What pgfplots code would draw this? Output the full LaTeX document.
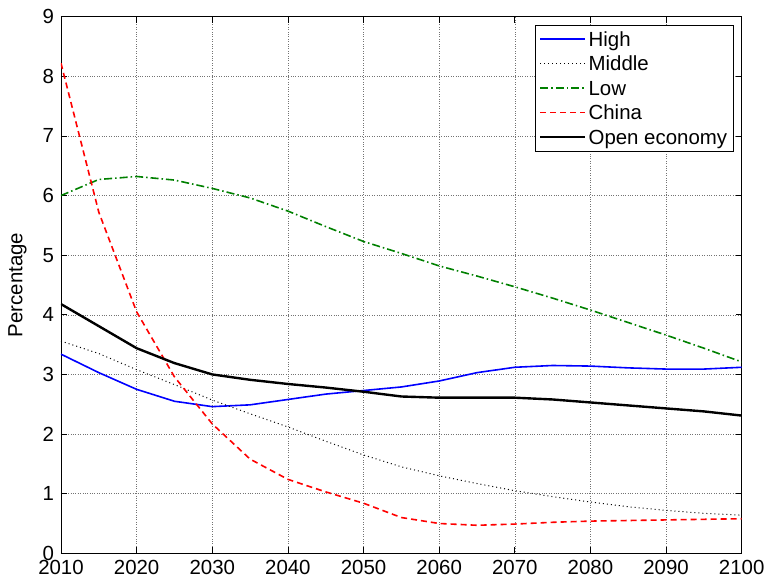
\documentclass[border=0pt]{standalone}
\usepackage{fontspec}
\setmainfont{Liberation Sans}
\usepackage{pgfplots}
\pgfplotsset{compat=1.18}
\definecolor{mgreen}{rgb}{0,0.5,0}
\newcommand{\ls}{\rule[-5.5bp]{0pt}{23bp}}
\begin{document}
\fontsize{20.5}{24}\selectfont
\begin{tikzpicture}
\begin{axis}[
  scale only axis, width=680.7bp, height=536.6bp,
  xmin=2010, xmax=2100, ymin=0, ymax=9,
  xtick={2010,2020,...,2100}, ytick={0,1,...,9},
  /pgf/number format/assume math mode=true,
  /pgf/number format/1000 sep={},
  grid=major,
  major grid style={dotted, black!55, line width=0.6pt},
  tick align=inside, major tick length=6bp,
  axis line style={line width=1pt},
  tick style={black, line width=0.8pt},
  ylabel={Percentage},
  ylabel style={at={(axis description cs:-0.064,0.5)}, anchor=center},
  legend cell align=left,
  legend image code/.code={\draw[mark repeat=2,mark phase=2,#1] plot coordinates {(0bp,0bp) (22.5bp,0bp) (45bp,0bp)};},
  legend style={at={(rel axis cs:0.9877,0.9845)}, anchor=north east,
    inner xsep=4bp, inner ysep=1.5bp, row sep=0pt},
]
\addplot[blue, line width=1.6pt] coordinates {
(2010,3.34) (2015,3.03) (2020,2.75) (2025,2.55) (2030,2.46) (2035,2.49) (2040,2.58) (2045,2.67) (2050,2.73) (2055,2.79) (2060,2.89) (2065,3.03) (2070,3.12) (2075,3.15) (2080,3.14) (2085,3.11) (2090,3.09) (2095,3.09) (2100,3.12)};
\addlegendentry{\ls High}
\addplot[black, line width=1pt, dash pattern=on 1bp off 3bp] coordinates {
(2010,3.56) (2015,3.35) (2020,3.08) (2025,2.83) (2030,2.57) (2035,2.34) (2040,2.12) (2045,1.88) (2050,1.65) (2055,1.45) (2060,1.30) (2065,1.17) (2070,1.05) (2075,0.95) (2080,0.86) (2085,0.78) (2090,0.72) (2095,0.67) (2100,0.64)};
\addlegendentry{\ls Middle}
\addplot[mgreen, line width=1.6pt, dash pattern=on 8bp off 3bp on 1.5bp off 3bp] coordinates {
(2010,6.00) (2015,6.27) (2020,6.32) (2025,6.26) (2030,6.12) (2035,5.96) (2040,5.74) (2045,5.48) (2050,5.23) (2055,5.03) (2060,4.82) (2065,4.65) (2070,4.47) (2075,4.28) (2080,4.08) (2085,3.87) (2090,3.66) (2095,3.44) (2100,3.21)};
\addlegendentry{\ls Low}
\addplot[red, line width=1.6pt, dash pattern=on 6bp off 4bp] coordinates {
(2010,8.22) (2015,5.72) (2020,4.05) (2025,2.96) (2030,2.17) (2035,1.58) (2040,1.24) (2045,1.03) (2050,0.84) (2055,0.60) (2060,0.50) (2065,0.47) (2070,0.49) (2075,0.52) (2080,0.54) (2085,0.55) (2090,0.56) (2095,0.57) (2100,0.58)};
\addlegendentry{\ls China}
\addplot[black, line width=2.4pt] coordinates {
(2010,4.18) (2015,3.81) (2020,3.44) (2025,3.19) (2030,3.00) (2035,2.91) (2040,2.84) (2045,2.78) (2050,2.71) (2055,2.63) (2060,2.61) (2065,2.61) (2070,2.61) (2075,2.58) (2080,2.53) (2085,2.48) (2090,2.43) (2095,2.38) (2100,2.31)};
\addlegendentry{\ls Open economy}
\end{axis}
\pgfresetboundingbox
\useasboundingbox (-61bp,-24.7bp) rectangle (704bp,553.3bp);
\end{tikzpicture}
\end{document}
